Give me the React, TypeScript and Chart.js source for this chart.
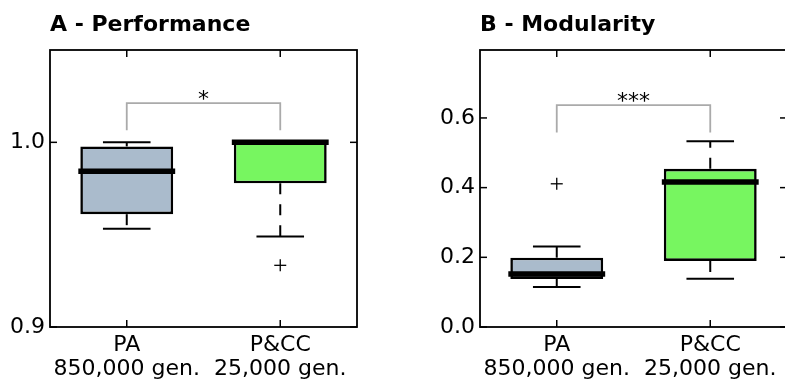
import React, { useEffect, useRef } from 'react';
import { Chart, registerables } from 'chart.js';

Chart.register(...registerables);

// ---------- data ----------
const categories = [['PA', '850,000 gen.'], ['P&CC', '25,000 gen.']];
const boxColors = ['#aabbcc', '#77f660'];

const perfTitle = 'A - Performance';
const perfQ1 = [0.9611, 0.9778];
const perfMedian = [0.9843, 1.0];
const perfQ3 = [0.9978, 1.0];
const perfWhiskerLow = [0.9532, 0.949];
const perfWhiskerHigh = [1.0, 1.0];
const perfOutliers = [[], [0.9334]];
const perfTicks = [0.9, 1.0];
const perfRange = [0.9, 1.05];
const perfBracket = [1.0066, 1.0212];
const perfSig = '*';

const modTitle = 'B - Modularity';
const modQ1 = [0.138, 0.1895];
const modMedian = [0.152, 0.4165];
const modQ3 = [0.199, 0.454];
const modWhiskerLow = [0.115, 0.1385];
const modWhiskerHigh = [0.231, 0.533];
const modOutliers = [[0.411], []];
const modTicks = [0.0, 0.2, 0.4, 0.6];
const modRange = [0.0, 0.795];
const modBracket = [0.558, 0.6366];
const modSig = '***';

const FONT = '"DejaVu Sans", sans-serif';
const BAR_FRAC = 0.605;

type PanelData = {
  title: string;
  q1: number[];
  median: number[];
  q3: number[];
  lo: number[];
  hi: number[];
  outliers: number[][];
  ticks: number[];
  range: number[];
  bracket: number[];
  sig: string;
};

const panels: PanelData[] = [
  {
    title: perfTitle, q1: perfQ1, median: perfMedian, q3: perfQ3, lo: perfWhiskerLow,
    hi: perfWhiskerHigh, outliers: perfOutliers, ticks: perfTicks, range: perfRange,
    bracket: perfBracket, sig: perfSig,
  },
  {
    title: modTitle, q1: modQ1, median: modMedian, q3: modQ3, lo: modWhiskerLow,
    hi: modWhiskerHigh, outliers: modOutliers, ticks: modTicks, range: modRange,
    bracket: modBracket, sig: modSig,
  },
];

function makePlugin(p: PanelData) {
  return {
    id: 'boxExtras',
    afterDatasetsDraw(chart: any) {
      const { ctx, chartArea: a } = chart;
      const x = chart.scales.x;
      const y = chart.scales.y;
      const cat = x.getPixelForValue(1) - x.getPixelForValue(0);
      const boxHalf = (cat * BAR_FRAC) / 2;
      const capHalf = cat * 0.155;
      const line = (x1: number, y1: number, x2: number, y2: number) => {
        ctx.beginPath();
        ctx.moveTo(x1, y1);
        ctx.lineTo(x2, y2);
        ctx.stroke();
      };
      ctx.save();
      ctx.lineCap = 'butt';
      p.q1.forEach((_, i) => {
        const cx = x.getPixelForValue(i);
        ctx.strokeStyle = '#000';
        // whiskers
        ctx.lineWidth = 2;
        ctx.setLineDash([11, 10]);
        line(cx, y.getPixelForValue(p.q1[i]), cx, y.getPixelForValue(p.lo[i]));
        line(cx, y.getPixelForValue(p.q3[i]), cx, y.getPixelForValue(p.hi[i]));
        ctx.setLineDash([]);
        // caps
        line(cx - capHalf, y.getPixelForValue(p.lo[i]), cx + capHalf, y.getPixelForValue(p.lo[i]));
        line(cx - capHalf, y.getPixelForValue(p.hi[i]), cx + capHalf, y.getPixelForValue(p.hi[i]));
        // median
        ctx.lineWidth = 5.5;
        const my = y.getPixelForValue(p.median[i]);
        line(cx - boxHalf - 2, my, cx + boxHalf + 2, my);
        // outliers
        ctx.lineWidth = 1.3;
        p.outliers[i].forEach((v) => {
          const oy = y.getPixelForValue(v);
          line(cx - 6, oy, cx + 6, oy);
          line(cx, oy - 6, cx, oy + 6);
        });
      });
      // significance bracket
      const x0 = x.getPixelForValue(0);
      const x1 = x.getPixelForValue(1);
      const yl = y.getPixelForValue(p.bracket[0]);
      const yt = y.getPixelForValue(p.bracket[1]);
      ctx.strokeStyle = '#aaaaaa';
      ctx.lineWidth = 1.8;
      ctx.beginPath();
      ctx.moveTo(x0, yl);
      ctx.lineTo(x0, yt);
      ctx.lineTo(x1, yt);
      ctx.lineTo(x1, yl);
      ctx.stroke();
      ctx.fillStyle = '#000';
      ctx.font = `22px ${FONT}`;
      ctx.textAlign = 'center';
      ctx.textBaseline = 'alphabetic';
      ctx.fillText(p.sig, (x0 + x1) / 2, yt + 3);
      // frame
      ctx.strokeStyle = '#000';
      ctx.lineWidth = 1.8;
      ctx.strokeRect(a.left, a.top, a.right - a.left, a.bottom - a.top);
      // inward ticks
      ctx.lineWidth = 1.5;
      p.ticks.forEach((v) => {
        const ty = y.getPixelForValue(v);
        line(a.left, ty, a.left + 7, ty);
        line(a.right - 7, ty, a.right, ty);
      });
      p.q1.forEach((_, i) => {
        const tx = x.getPixelForValue(i);
        line(tx, a.bottom, tx, a.bottom - 7);
        line(tx, a.top, tx, a.top + 7);
      });
      // title
      ctx.font = `bold 22px ${FONT}`;
      ctx.textAlign = 'left';
      ctx.textBaseline = 'alphabetic';
      ctx.fillText(p.title, a.left, 31);
      ctx.restore();
    },
  };
}

function Panel({ p, left }: { p: PanelData; left: number }) {
  const ref = useRef<HTMLCanvasElement>(null);
  useEffect(() => {
    if (!ref.current) return;
    const chart = new Chart(ref.current, {
      type: 'bar',
      data: {
        labels: categories as any,
        datasets: [
          {
            data: p.q1.map((v, i) => [v, p.q3[i]]) as any,
            backgroundColor: boxColors,
            borderColor: '#000',
            borderWidth: 2.6,
            borderSkipped: false,
            barPercentage: BAR_FRAC,
            categoryPercentage: 1,
          },
        ],
      },
      options: {
        responsive: false,
        animation: false,
        devicePixelRatio: 1,
        layout: { padding: { left: 0, right: 43, top: 50, bottom: 0 } },
        plugins: {
          legend: { display: false },
          tooltip: { enabled: false },
          title: { display: false },
        },
        scales: {
          x: {
            type: 'category',
            offset: true,
            grid: { display: false, drawTicks: false },
            border: { display: false },
            ticks: {
              color: '#000',
              font: { family: FONT, size: 22, lineHeight: 1.09 },
              padding: 6,
              maxRotation: 0,
              autoSkip: false,
            },
            afterFit: (s: any) => {
              s.height = 55;
            },
          },
          y: {
            min: p.range[0],
            max: p.range[1],
            grid: { display: false, drawTicks: false },
            border: { display: false },
            ticks: {
              color: '#000',
              font: { family: FONT, size: 22 },
              padding: 5,
              callback: (v: any) => Number(v).toFixed(1),
            },
            afterBuildTicks: (s: any) => {
              s.ticks = p.ticks.map((v) => ({ value: v }));
            },
            afterFit: (s: any) => {
              s.width = 50;
            },
          },
        },
      } as any,
      plugins: [makePlugin(p) as any],
    });
    return () => chart.destroy();
  }, []);
  return (
    <canvas
      ref={ref}
      width={400}
      height={382}
      style={{ position: 'absolute', left, top: 0, width: 400, height: 382 }}
    />
  );
}

export default function App() {
  return (
    <div
      style={{
        position: 'absolute',
        left: 0,
        top: 0,
        width: 785,
        height: 382,
        overflow: 'hidden',
        background: '#fff',
      }}
    >
      <Panel p={panels[0]} left={0} />
      <Panel p={panels[1]} left={430} />
    </div>
  );
}
